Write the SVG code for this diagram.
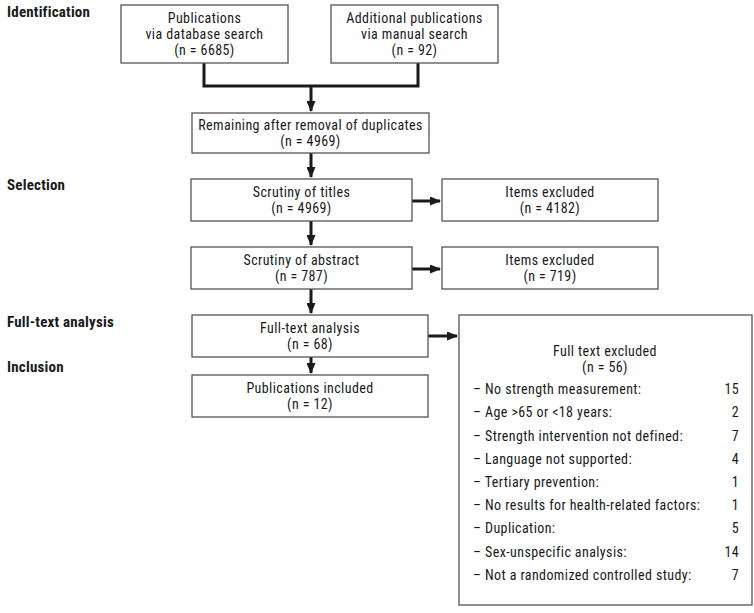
<svg xmlns="http://www.w3.org/2000/svg" width="754" height="613" viewBox="0 0 754 613">
<defs>
<marker id="ah" markerWidth="11" markerHeight="9" refX="10" refY="4.5" orient="auto" markerUnits="userSpaceOnUse"><path d="M0,0 L11,4.5 L0,9 Z" fill="#1a1a1a"/></marker>
</defs>
<style>
text{font-family:"Liberation Sans Narrow","Roboto Condensed","Liberation Sans",sans-serif;font-size:14px;letter-spacing:0.4px;fill:#1a1a1a}
.c{text-anchor:middle}
.r{text-anchor:end}
.h{font-weight:bold;font-size:15px;letter-spacing:0.2px}
rect{fill:#fff;stroke:#555;stroke-width:1.3}
.ln{fill:none;stroke:#1a1a1a;stroke-width:3}
</style>
<rect x="0" y="0" width="754" height="613" style="stroke:none"/>
<g id="stages">
<text class="h" x="7" y="17">Identification</text>
<text class="h" x="7" y="190">Selection</text>
<text class="h" x="7" y="327">Full-text analysis</text>
<text class="h" x="7" y="372">Inclusion</text>
</g>
<g id="connectors">
<path class="ln" d="M204,63 V86 H418 V63"/>
<path class="ln" d="M311,86 V111" marker-end="url(#ah)"/>
<path class="ln" d="M311,153 V177" marker-end="url(#ah)"/>
<path class="ln" d="M311,221 V245" marker-end="url(#ah)"/>
<path class="ln" d="M311,289 V313" marker-end="url(#ah)"/>
<path class="ln" d="M311,357 V373" marker-end="url(#ah)"/>
<path class="ln" d="M412,201 H440" marker-end="url(#ah)"/>
<path class="ln" d="M412,269 H440" marker-end="url(#ah)"/>
<path class="ln" d="M428,336 H457" marker-end="url(#ah)"/>
</g>
<g id="db">
<rect x="121" y="5" width="167" height="58"/>
<text class="c" x="204.5" y="23">Publications</text>
<text class="c" x="204.5" y="39">via database search</text>
<text class="c" x="204.5" y="55">(n = 6685)</text>
</g>
<g id="manual">
<rect x="331" y="5" width="167" height="58"/>
<text class="c" x="414.5" y="23">Additional publications</text>
<text class="c" x="414.5" y="39">via manual search</text>
<text class="c" x="414.5" y="55">(n = 92)</text>
</g>
<g id="dedup">
<rect x="192" y="113" width="237" height="40"/>
<text class="c" x="310.5" y="130">Remaining after removal of duplicates</text>
<text class="c" x="310.5" y="146">(n = 4969)</text>
</g>
<g id="titles">
<rect x="191" y="179" width="221" height="42"/>
<text class="c" x="301.5" y="197">Scrutiny of titles</text>
<text class="c" x="301.5" y="213">(n = 4969)</text>
</g>
<g id="excl1">
<rect x="442" y="179" width="216" height="42"/>
<text class="c" x="550" y="197">Items excluded</text>
<text class="c" x="550" y="213">(n = 4182)</text>
</g>
<g id="abstract">
<rect x="191" y="247" width="221" height="42"/>
<text class="c" x="301.5" y="265">Scrutiny of abstract</text>
<text class="c" x="301.5" y="281">(n = 787)</text>
</g>
<g id="excl2">
<rect x="442" y="247" width="216" height="42"/>
<text class="c" x="550" y="265">Items excluded</text>
<text class="c" x="550" y="281">(n = 719)</text>
</g>
<g id="fulltext">
<rect x="192" y="315" width="236" height="42"/>
<text class="c" x="310" y="333">Full-text analysis</text>
<text class="c" x="310" y="349">(n = 68)</text>
</g>
<g id="included">
<rect x="192" y="375" width="236" height="42"/>
<text class="c" x="310" y="393">Publications included</text>
<text class="c" x="310" y="409">(n = 12)</text>
</g>
<g id="excl3">
<rect x="459" y="315" width="293" height="290"/>
<text class="c" x="605" y="356">Full text excluded</text>
<text class="c" x="605" y="372">(n = 56)</text>
<text x="473" y="394">– No strength measurement:</text><text class="r" x="739" y="394">15</text>
<text x="473" y="417">– Age &gt;65 or &lt;18 years:</text><text class="r" x="739" y="417">2</text>
<text x="473" y="441">– Strength intervention not defined:</text><text class="r" x="739" y="441">7</text>
<text x="473" y="464">– Language not supported:</text><text class="r" x="739" y="464">4</text>
<text x="473" y="487">– Tertiary prevention:</text><text class="r" x="739" y="487">1</text>
<text x="473" y="510">– No results for health-related factors:</text><text class="r" x="739" y="510">1</text>
<text x="473" y="533">– Duplication:</text><text class="r" x="739" y="533">5</text>
<text x="473" y="557">– Sex-unspecific analysis:</text><text class="r" x="739" y="557">14</text>
<text x="473" y="580">– Not a randomized controlled study:</text><text class="r" x="739" y="580">7</text>
</g>
</svg>
